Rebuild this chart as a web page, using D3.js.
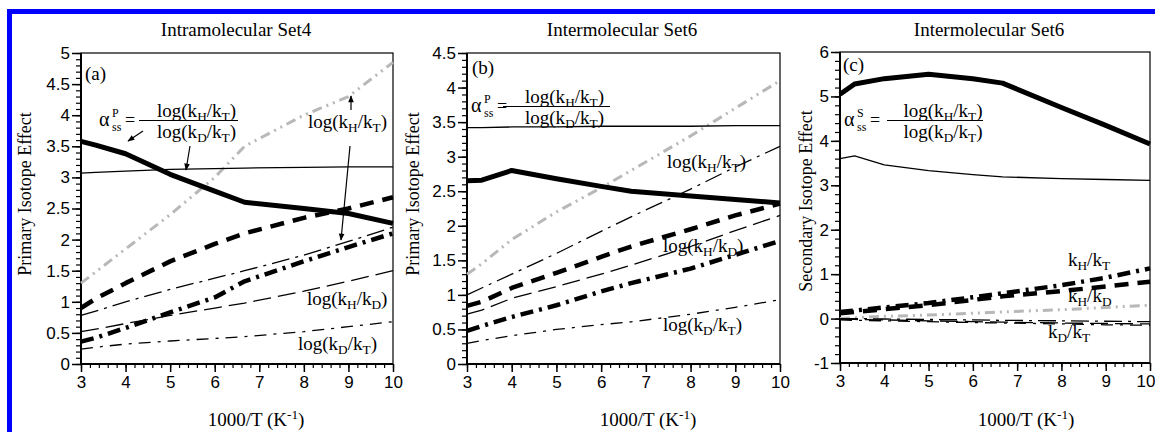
<!DOCTYPE html>
<html><head><meta charset="utf-8">
<script src="https://cdn.jsdelivr.net/npm/d3@7"></script>
<style>
html,body{margin:0;padding:0;background:#fff;}
svg{display:block;}
.tick text{font-family:"Liberation Sans",Arial,sans-serif;font-size:17px;fill:#000;}
.serif{font-family:"Liberation Serif","DejaVu Serif","Noto Serif","Times New Roman",serif;}
</style></head>
<body>
<svg id="chart" width="1155" height="432"></svg>
<script>
// ---- data ----
const xVals = [3, 3.33, 4, 5, 6, 6.67, 8, 9, 10];
const xTicks = [3, 4, 5, 6, 7, 8, 9, 10];

// Panel (a) Intramolecular Set4
const intraThickSolid = [3.58, 3.52, 3.38, 3.05, 2.78, 2.6, 2.5, 2.42, 2.26];
const intraThinSolid  = [3.07, 3.08, 3.1, 3.13, 3.14, 3.15, 3.16, 3.17, 3.17];
const intraGray       = [1.3, 1.48, 1.85, 2.4, 3.0, 3.5, 4.0, 4.3, 4.85];
const intraThickDash  = [0.9, 1.05, 1.3, 1.65, 1.93, 2.1, 2.35, 2.5, 2.68];
const intraThickDashDot = [0.36, 0.42, 0.58, 0.83, 1.07, 1.33, 1.65, 1.88, 2.1];
const intraKHkT = [0.78, 0.85, 1.0, 1.2, 1.38, 1.5, 1.75, 1.97, 2.2];
const intraKHkD = [0.52, 0.56, 0.65, 0.78, 0.9, 0.98, 1.17, 1.33, 1.5];
const intraKDkT = [0.24, 0.27, 0.32, 0.37, 0.41, 0.44, 0.52, 0.6, 0.68];
const intraYTicks = [0, 0.5, 1, 1.5, 2, 2.5, 3, 3.5, 4, 4.5, 5];

// Panel (b) Intermolecular Set6, primary
const interPThickSolid = [2.65, 2.66, 2.8, 2.68, 2.57, 2.5, 2.43, 2.38, 2.33];
const interPThinSolid  = [3.42, 3.42, 3.43, 3.43, 3.44, 3.44, 3.44, 3.45, 3.45];
const interPGray       = [1.3, 1.45, 1.8, 2.2, 2.55, 2.8, 3.3, 3.7, 4.1];
const interPThickDash  = [0.84, 0.9, 1.1, 1.32, 1.55, 1.7, 1.95, 2.15, 2.32];
const interPThickDashDot = [0.48, 0.55, 0.68, 0.85, 1.05, 1.17, 1.38, 1.58, 1.78];
const interPKHkT = [1.0, 1.1, 1.3, 1.6, 1.92, 2.13, 2.53, 2.85, 3.15];
const interPKHkD = [0.72, 0.78, 0.95, 1.12, 1.3, 1.43, 1.7, 1.93, 2.15];
const interPKDkT = [0.3, 0.34, 0.41, 0.5, 0.57, 0.61, 0.72, 0.82, 0.93];
const interPYTicks = [0, 0.5, 1, 1.5, 2, 2.5, 3, 3.5, 4, 4.5];

// Panel (c) Intermolecular Set6, secondary
const interSThickSolid = [5.05, 5.28, 5.4, 5.5, 5.4, 5.3, 4.75, 4.35, 3.93];
const interSThinSolid  = [3.6, 3.66, 3.46, 3.33, 3.24, 3.19, 3.15, 3.13, 3.11];
const interSGray       = [0.0, 0.02, 0.05, 0.08, 0.12, 0.15, 0.2, 0.25, 0.3];
const interSThickDash  = [0.12, 0.15, 0.21, 0.3, 0.42, 0.5, 0.62, 0.72, 0.83];
const interSThickDashDot = [0.15, 0.18, 0.25, 0.35, 0.48, 0.57, 0.75, 0.92, 1.13];
const interSKHkT = [0.0, 0.0, -0.01, -0.02, -0.03, -0.04, -0.05, -0.06, -0.07];
const interSKHkD = [-0.02, -0.02, -0.03, -0.05, -0.07, -0.08, -0.1, -0.11, -0.12];
const interSKDkT = [-0.03, -0.04, -0.05, -0.07, -0.09, -0.1, -0.12, -0.14, -0.15];
const interSYTicks = [-1, 0, 1, 2, 3, 4, 5, 6];

const titles = ["Intramolecular Set4", "Intermolecular Set6", "Intermolecular Set6"];

// ---- drawing ----
const svg = d3.select("#chart");

// blue frame
svg.append("rect").attr("x",7).attr("y",9).attr("width",5).attr("height",423).attr("fill","#0000ff");
svg.append("rect").attr("x",7).attr("y",9).attr("width",1148).attr("height",5).attr("fill","#0000ff");

const styles = {
  gray:        {stroke:"#b8b8b8", w:3,   dash:"10,5,2,5,2,5"},
  kDkT:        {stroke:"#000", w:1.3, dash:"12,7,3,7"},
  kHkD:        {stroke:"#000", w:1.3, dash:"18,7"},
  kHkT:        {stroke:"#000", w:1.3, dash:"18,6,3,6"},
  thickDashDot:{stroke:"#000", w:4.5, dash:"13,6,3,6"},
  thickDash:   {stroke:"#000", w:4.5, dash:"14,9"},
  thinSolid:   {stroke:"#000", w:1.3, dash:null},
  thickSolid:  {stroke:"#000", w:5,   dash:null}
};

const FS = 19;
function stext(g, x, y, size, str) {
  return g.append("text").attr("class", "serif").attr("x", x).attr("y", y)
    .attr("font-size", size).attr("fill", "#000").text(str);
}
function rich(g, x, y, segs, opts) {
  opts = opts || {};
  const fs = opts.size || FS;
  const t = g.append("text").attr("class", "serif").attr("x", x).attr("y", y)
    .attr("font-size", fs).attr("text-anchor", opts.anchor || "start").attr("fill", "#000");
  let shift = 0;
  segs.forEach(s => {
    const tp = t.append("tspan").text(s.t);
    let target = 0;
    if (s.s === "sub") { target = 4; tp.attr("font-size", fs * 0.7); }
    if (s.s === "sup") { target = -7; tp.attr("font-size", fs * 0.7); }
    tp.attr("dy", target - shift);
    shift = target;
  });
  return t;
}
const logHT = [{t:"log(k"},{t:"H",s:"sub"},{t:"/k"},{t:"T",s:"sub"},{t:")"}];
const logDT = [{t:"log(k"},{t:"D",s:"sub"},{t:"/k"},{t:"T",s:"sub"},{t:")"}];
const logHD = [{t:"log(k"},{t:"H",s:"sub"},{t:"/k"},{t:"D",s:"sub"},{t:")"}];

const panels = [
  {x0:81, x1:393, y0:364, y1:53, yDom:[0,5], yTicks:intraYTicks, yMinor:0.1,
   series:{gray:intraGray,kDkT:intraKDkT,kHkD:intraKHkD,kHkT:intraKHkT,thickDashDot:intraThickDashDot,thickDash:intraThickDash,thinSolid:intraThinSolid,thickSolid:intraThickSolid},
   title:titles[0], tx:236, ytitle:"Primary Isotope Effect", ytx:31, yty:194, xtx:256},
  {x0:467, x1:780, y0:364, y1:53, yDom:[0,4.5], yTicks:interPYTicks, yMinor:0.1,
   series:{gray:interPGray,kDkT:interPKDkT,kHkD:interPKHkD,kHkT:interPKHkT,thickDashDot:interPThickDashDot,thickDash:interPThickDash,thinSolid:interPThinSolid,thickSolid:interPThickSolid},
   title:titles[1], tx:622, ytitle:"Primary Isotope Effect", ytx:419, yty:194, xtx:648},
  {x0:840, x1:1150, y0:363, y1:52, yDom:[-1,6], yTicks:interSYTicks, yMinor:0.2,
   series:{gray:interSGray,kDkT:interSKDkT,kHkD:interSKHkD,kHkT:interSKHkT,thickDashDot:interSThickDashDot,thickDash:interSThickDash,thinSolid:interSThinSolid,thickSolid:interSThickSolid},
   title:titles[2], tx:989, ytitle:"Secondary Isotope Effect", ytx:812, yty:201, xtx:1026}
];

panels.forEach((p, i) => {
  const g = svg.append("g");
  const x = d3.scaleLinear().domain([3,10]).range([p.x0, p.x1]);
  const y = d3.scaleLinear().domain(p.yDom).range([p.y0, p.y1]);

  // minor ticks
  const xMinor = d3.range(3, 10.0001, 0.2).map(v => +v.toFixed(2));
  const yMinor = d3.range(p.yDom[0], p.yDom[1] + 1e-6, p.yMinor).map(v => +v.toFixed(2));
  g.append("g").attr("transform", `translate(0,${p.y0})`)
    .call(d3.axisBottom(x).tickValues(xMinor).tickSize(4).tickFormat(""))
    .call(a => a.select(".domain").remove())
    .selectAll("line").attr("stroke-width", 1.2);
  g.append("g").attr("transform", `translate(${p.x0},0)`)
    .call(d3.axisLeft(y).tickValues(yMinor).tickSize(5).tickFormat(""))
    .call(a => a.select(".domain").remove())
    .selectAll("line").attr("stroke-width", 1.2);

  // major ticks
  const xa = g.append("g").attr("transform", `translate(0,${p.y0})`)
    .call(d3.axisBottom(x).tickValues(xTicks).tickSize(8).tickPadding(4).tickFormat(d => String(d)));
  xa.select(".domain").remove();
  xa.selectAll("line").attr("stroke-width", 1.5);
  if (i === 2) {
    // keep the last label inside the window
    xa.selectAll(".tick").filter(d => d === 10).select("text").attr("text-anchor", "end").attr("x", 5);
  }
  const ya = g.append("g").attr("transform", `translate(${p.x0},0)`)
    .call(d3.axisLeft(y).tickValues(p.yTicks).tickSize(9).tickPadding(2).tickFormat(d => String(d)));
  ya.select(".domain").remove();
  ya.selectAll("line").attr("stroke-width", 1.5);

  // frame
  g.append("rect").attr("x", p.x0).attr("y", p.y1).attr("width", p.x1 - p.x0).attr("height", p.y0 - p.y1)
    .attr("fill", "none").attr("stroke", "#000").attr("stroke-width", 1.2);
  g.append("line").attr("x1", p.x0).attr("x2", p.x1).attr("y1", p.y0).attr("y2", p.y0).attr("stroke", "#000").attr("stroke-width", 2);
  g.append("line").attr("x1", p.x0).attr("x2", p.x0).attr("y1", p.y0).attr("y2", p.y1).attr("stroke", "#000").attr("stroke-width", 2);

  // series
  const line = d3.line().x((d, j) => x(xVals[j])).y(d => y(d));
  Object.keys(styles).forEach(k => {
    const st = styles[k];
    const path = g.append("path").datum(p.series[k]).attr("d", line)
      .attr("fill", "none").attr("stroke", st.stroke).attr("stroke-width", st.w)
      .attr("stroke-linejoin", "round");
    if (st.dash) path.attr("stroke-dasharray", st.dash);
  });

  // titles
  stext(g, p.tx, 36, 19, p.title).attr("text-anchor", "middle");
  rich(g, p.xtx, 426, [{t:"1000/T (K"},{t:"-1",s:"sup"},{t:")"}], {anchor:"middle"});
  stext(g, p.ytx, p.yty, 18, p.ytitle).attr("text-anchor", "middle")
    .attr("transform", `rotate(-90,${p.ytx},${p.yty})`);
});

// formula helper
function formula(g, ax, barY, barX0, barX1, supLetter) {
  stext(g, ax, barY + 5, 20, "\u03b1");
  stext(g, ax + 13, barY - 4, 12, supLetter);
  stext(g, ax + 13, barY + 10, 12, "ss");
  stext(g, ax + 26, barY + 5, 18, "=");
  g.append("line").attr("x1", barX0).attr("x2", barX1).attr("y1", barY).attr("y2", barY).attr("stroke", "#000").attr("stroke-width", 1.2);
  const cx = (barX0 + barX1) / 2 + 8;
  rich(g, cx, barY - 4, logHT, {anchor:"middle"});
  rich(g, cx, barY + 17, logDT, {anchor:"middle"});
}
const ann = svg.append("g");

// panel labels
stext(ann, 85, 80, 19, "(a)");
stext(ann, 472, 74, 19, "(b)");
stext(ann, 843, 71, 19, "(c)");

formula(ann, 99, 120.5, 139, 238, "P");
formula(ann, 471, 106.5, 503, 610, "P");
formula(ann, 844, 120.5, 887, 983, "S");

// curve labels
rich(ann, 308, 128, logHT);
rich(ann, 307, 305, logHD);
rich(ann, 298, 350, logDT);
rich(ann, 667, 168, logHT);
rich(ann, 663, 252, logHD);
rich(ann, 663, 331, logDT);
rich(ann, 1068, 266, [{t:"k"},{t:"H",s:"sub"},{t:"/k"},{t:"T",s:"sub"}]);
rich(ann, 1068, 302, [{t:"k"},{t:"H",s:"sub"},{t:"/k"},{t:"D",s:"sub"}]);
rich(ann, 1048, 338, [{t:"k"},{t:"D",s:"sub"},{t:"/k"},{t:"T",s:"sub"}]);

// arrows in panel (a)
const defs = svg.append("defs");
defs.append("marker").attr("id", "arr").attr("viewBox", "0 0 10 10").attr("refX", 9).attr("refY", 5)
  .attr("markerWidth", 9).attr("markerHeight", 7).attr("markerUnits", "userSpaceOnUse").attr("orient", "auto")
  .append("path").attr("d", "M0,1 L10,5 L0,9 Z").attr("fill", "#000");
const arrows = [
  [[143,131],[128,141]],
  [[190,146],[186,170]],
  [[351,110],[351,96]],
  [[350,146],[341,240]]
];
arrows.forEach(a => {
  ann.append("line").attr("x1", a[0][0]).attr("y1", a[0][1]).attr("x2", a[1][0]).attr("y2", a[1][1])
    .attr("stroke", "#000").attr("stroke-width", 1.2).attr("marker-end", "url(#arr)");
});
</script>
</body></html>
